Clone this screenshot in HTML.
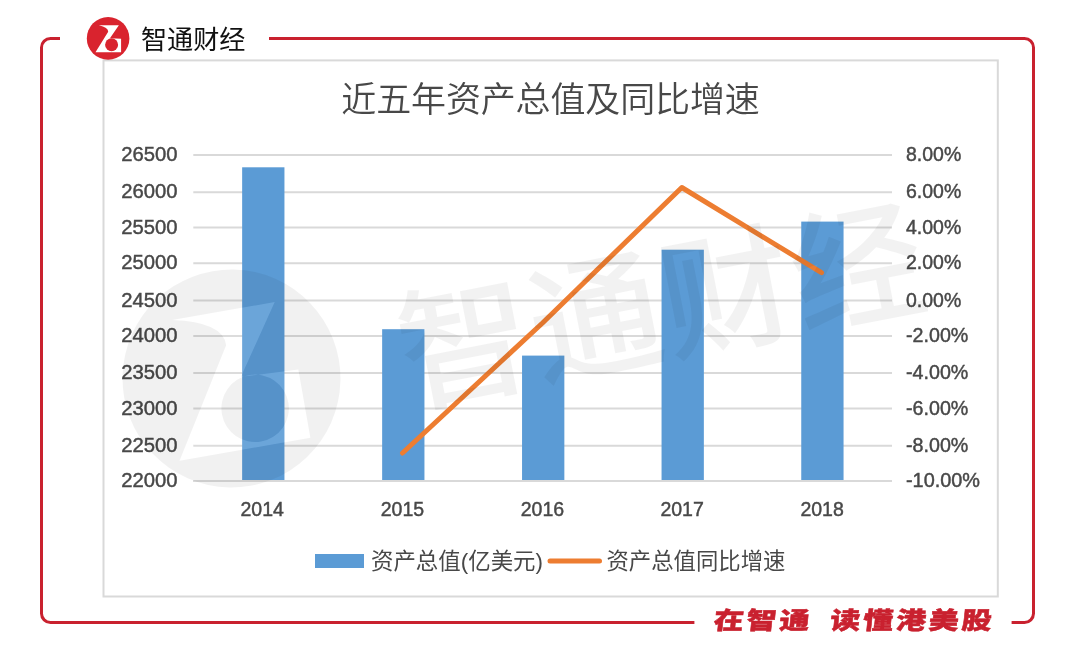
<!DOCTYPE html>
<html lang="zh-CN">
<head>
<meta charset="utf-8">
<title>近五年资产总值及同比增速</title>
<style>
html,body{margin:0;padding:0;background:#fff;}
body{width:1080px;height:647px;overflow:hidden;position:relative;font-family:"Liberation Sans", "Noto Sans CJK SC", sans-serif;}
svg{position:absolute;left:0;top:0;display:block;}
.num{font-family:"Liberation Sans", sans-serif;font-size:20px;fill:#484848;stroke:#484848;stroke-width:0.45px;}
.cjk{font-family:"Liberation Sans", "Noto Sans CJK SC", sans-serif;fill:#484848;}
</style>
</head>
<body>
<svg width="1080" height="647" viewBox="0 0 1080 647">
<rect x="0" y="0" width="1080" height="647" fill="#ffffff"/>
<rect x="103.5" y="60.4" width="894.3" height="536.1" fill="#fff" stroke="#d9d9d9" stroke-width="2"/>
<g stroke="#d9d9d9" stroke-width="2">
<line x1="193.3" y1="154.90" x2="892.0" y2="154.90"/>
<line x1="193.3" y1="192.20" x2="892.0" y2="192.20"/>
<line x1="193.3" y1="227.60" x2="892.0" y2="227.60"/>
<line x1="193.3" y1="263.20" x2="892.0" y2="263.20"/>
<line x1="193.3" y1="300.40" x2="892.0" y2="300.40"/>
<line x1="193.3" y1="336.00" x2="892.0" y2="336.00"/>
<line x1="193.3" y1="373.10" x2="892.0" y2="373.10"/>
<line x1="193.3" y1="408.60" x2="892.0" y2="408.60"/>
<line x1="193.3" y1="445.80" x2="892.0" y2="445.80"/>
<line x1="193.3" y1="481.10" x2="892.0" y2="481.10"/>
</g>
<g fill="#5b9bd5">
<rect x="242.15" y="167.3" width="42.3" height="313.80"/>
<rect x="382.15" y="329.2" width="42.3" height="151.90"/>
<rect x="522.05" y="355.6" width="42.3" height="125.50"/>
<rect x="661.55" y="249.7" width="42.3" height="231.40"/>
<rect x="801.25" y="221.6" width="42.3" height="259.50"/>
</g>
<line x1="193.3" y1="481.1" x2="892.0" y2="481.1" stroke="#d9d9d9" stroke-width="2"/>
<polyline fill="none" stroke="#ed7d31" stroke-width="5" stroke-linecap="round" stroke-linejoin="round" points="402.5,453.0 542.5,323.0 681.8,187.5 821.5,272.6"/>
<text class="num" x="121.2" y="161.10" textLength="56.3" lengthAdjust="spacingAndGlyphs">26500</text>
<text class="num" x="121.2" y="198.40" textLength="56.3" lengthAdjust="spacingAndGlyphs">26000</text>
<text class="num" x="121.2" y="233.80" textLength="56.3" lengthAdjust="spacingAndGlyphs">25500</text>
<text class="num" x="121.2" y="269.40" textLength="56.3" lengthAdjust="spacingAndGlyphs">25000</text>
<text class="num" x="121.2" y="306.60" textLength="56.3" lengthAdjust="spacingAndGlyphs">24500</text>
<text class="num" x="121.2" y="342.20" textLength="56.3" lengthAdjust="spacingAndGlyphs">24000</text>
<text class="num" x="121.2" y="379.30" textLength="56.3" lengthAdjust="spacingAndGlyphs">23500</text>
<text class="num" x="121.2" y="414.80" textLength="56.3" lengthAdjust="spacingAndGlyphs">23000</text>
<text class="num" x="121.2" y="452.00" textLength="56.3" lengthAdjust="spacingAndGlyphs">22500</text>
<text class="num" x="121.2" y="487.30" textLength="56.3" lengthAdjust="spacingAndGlyphs">22000</text>
<text class="num" x="906" y="161.10" textLength="55.2" lengthAdjust="spacingAndGlyphs">8.00%</text>
<text class="num" x="906" y="198.40" textLength="55.2" lengthAdjust="spacingAndGlyphs">6.00%</text>
<text class="num" x="906" y="233.80" textLength="55.2" lengthAdjust="spacingAndGlyphs">4.00%</text>
<text class="num" x="906" y="269.40" textLength="55.2" lengthAdjust="spacingAndGlyphs">2.00%</text>
<text class="num" x="906" y="306.60" textLength="55.2" lengthAdjust="spacingAndGlyphs">0.00%</text>
<text class="num" x="906" y="342.20" textLength="62.3" lengthAdjust="spacingAndGlyphs">-2.00%</text>
<text class="num" x="906" y="379.30" textLength="62.3" lengthAdjust="spacingAndGlyphs">-4.00%</text>
<text class="num" x="906" y="414.80" textLength="62.3" lengthAdjust="spacingAndGlyphs">-6.00%</text>
<text class="num" x="906" y="452.00" textLength="62.3" lengthAdjust="spacingAndGlyphs">-8.00%</text>
<text class="num" x="906" y="487.30" textLength="74.0" lengthAdjust="spacingAndGlyphs">-10.00%</text>
<text class="num" x="240.5" y="515.6" textLength="43.4" lengthAdjust="spacingAndGlyphs">2014</text>
<text class="num" x="380.7" y="515.6" textLength="43.4" lengthAdjust="spacingAndGlyphs">2015</text>
<text class="num" x="520.7" y="515.6" textLength="43.4" lengthAdjust="spacingAndGlyphs">2016</text>
<text class="num" x="660.4" y="515.6" textLength="43.4" lengthAdjust="spacingAndGlyphs">2017</text>
<text class="num" x="800.4" y="515.6" textLength="43.4" lengthAdjust="spacingAndGlyphs">2018</text>
<text class="cjk" x="341.3" y="112.3" font-size="35" font-weight="350" textLength="418.5" lengthAdjust="spacing">近五年资产总值及同比增速</text>
<rect x="315" y="554" width="49" height="14" fill="#5b9bd5"/>
<text class="cjk" x="371" y="569" font-size="22.3" font-weight="400" textLength="172" lengthAdjust="spacingAndGlyphs">资产总值(亿美元)</text>
<line x1="550" y1="561" x2="599.5" y2="561" stroke="#ed7d31" stroke-width="5" stroke-linecap="round"/>
<text class="cjk" x="606.5" y="569" font-size="22.3" font-weight="400" textLength="179" lengthAdjust="spacingAndGlyphs">资产总值同比增速</text>
<g transform="translate(231.5,378.5) rotate(-10) scale(5.19)">
<path d="M-21,0 A21,21 0 1,0 21,0 A21,21 0 1,0 -21,0 Z M-9.27,-13.06 L10.76,-13.06 L1.85,0 L12.98,0.52 L12.98,13.87 L-12.61,13.87 L0.1,-6.5 Q0.3,-11 -9.27,-13.06 Z M-3.01,6.45 A6.5,6.5 0 1,0 9.99,6.45 A6.5,6.5 0 1,0 -3.01,6.45 Z" fill="#000" fill-opacity="0.055" fill-rule="evenodd"/>
<path d="M-9.27,-13.06 L10.76,-13.06 L1.85,0 L12.98,0.52 L12.98,13.87 L-12.61,13.87 L0.1,-6.5 Q0.3,-11 -9.27,-13.06 Z M-3.01,6.45 A6.5,6.5 0 1,0 9.99,6.45 A6.5,6.5 0 1,0 -3.01,6.45 Z" fill="#fff" fill-opacity="0.10" fill-rule="evenodd"/>
</g>
<text x="0" y="0" transform="translate(409,404) rotate(-11)" font-family='"Liberation Sans", "Noto Sans CJK SC", sans-serif' font-size="132" font-weight="500" fill="#000" fill-opacity="0.05" textLength="532" lengthAdjust="spacing">智通财经</text>
<g fill="none" stroke="#c9212f" stroke-width="3" stroke-linecap="butt">
<path d="M60,38.5 H50.5 A9,9 0 0 0 41.5,47.5 V613.5 A9,9 0 0 0 50.5,622.5 H694.4"/>
<path d="M269,38.5 H1024.5 A9,9 0 0 1 1033.5,47.5 V613.5 A9,9 0 0 1 1024.5,622.5 H1011.6"/>
</g>
<g transform="translate(108.1,38.3)">
<circle cx="0" cy="0.1" r="21.3" fill="#d9232e"/>
<path d="M-9.27,-13.06 L10.76,-13.06 L1.85,0 L12.98,0.52 L12.98,13.87 L-12.61,13.87 L0.1,-6.5 Q0.3,-11 -9.27,-13.06 Z" fill="#fff"/>
<circle cx="3.49" cy="6.45" r="6.5" fill="#d9232e"/>
</g>
<text x="141" y="48.5" font-family='"Liberation Sans", "Noto Sans CJK SC", sans-serif' font-size="26" font-weight="400" fill="#111" textLength="104.5" lengthAdjust="spacingAndGlyphs">智通财经</text>
<g font-family='"Liberation Sans", "Noto Sans CJK SC", sans-serif' font-size="24" font-weight="900" fill="#c9212f" letter-spacing="2.3" stroke="#c9212f" stroke-width="0.5">
<text transform="translate(713,628.8) skewX(-6) scale(1.25,1)" x="0" y="0">在智通</text>
<text transform="translate(829.5,628.8) skewX(-6) scale(1.25,1)" x="0" y="0">读懂港美股</text>
</g>
</svg>
</body>
</html>
